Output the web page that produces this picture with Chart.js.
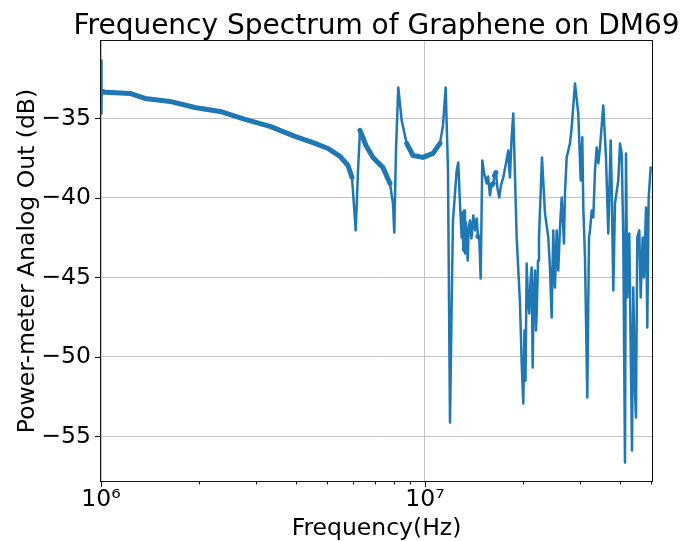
<!DOCTYPE html>
<html><head><meta charset="utf-8">
<script src="https://cdn.jsdelivr.net/npm/chart.js@4"></script>
<style>html,body{margin:0;padding:0;background:#fff;} canvas{display:block;}</style>
</head><body>
<canvas id="c" width="683" height="541"></canvas>
<script>
const freqHz = [
  1.0e6, 1.002e6, 1.005e6, 1.0143e6, 1.029e6, 1.229e6, 1.367e6, 1.633e6, 1.950e6, 2.330e6,
  2.783e6, 3.324e6, 3.970e6, 4.577e6, 5.020e6, 5.467e6, 5.785e6, 5.953e6, 6.112e6, 6.213e6,
  6.302e6, 6.576e6, 6.911e6, 7.419e6, 7.798e6, 7.965e6, 8.039e6, 8.137e6, 8.271e6, 8.474e6,
  8.780e6, 9.183e6, 9.859e6, 1.0585e7, 1.1124e7, 1.1365e7, 1.1584e7, 1.1776e7, 1.1945e7, 1.2089e7,
  1.2201e7, 1.2526e7, 1.2671e7, 1.2823e7, 1.2980e7, 1.3055e7, 1.3128e7, 1.3203e7, 1.3289e7, 1.3381e7,
  1.3546e7, 1.3643e7, 1.3769e7, 1.3915e7, 1.4096e7, 1.4266e7, 1.4441e7, 1.4575e7, 1.4710e7, 1.4856e7,
  1.5028e7, 1.5210e7, 1.5502e7, 1.5650e7, 1.5870e7, 1.6040e7, 1.6247e7, 1.6390e7, 1.6561e7, 1.6740e7,
  1.6955e7, 1.7160e7, 1.7446e7, 1.7660e7, 1.7850e7, 1.8076e7, 1.8170e7, 1.8294e7, 1.8490e7, 1.8729e7,
  1.9187e7, 1.9644e7, 1.9885e7, 2.0110e7, 2.0280e7, 2.0430e7, 2.0603e7, 2.0800e7, 2.0986e7, 2.1170e7,
  2.1347e7, 2.1500e7, 2.1630e7, 2.1854e7, 2.2010e7, 2.2122e7, 2.2330e7, 2.2486e7, 2.2967e7, 2.3464e7,
  2.4022e7, 2.4311e7, 2.4604e7, 2.4889e7, 2.5189e7, 2.5497e7, 2.5787e7, 2.6103e7, 2.6418e7, 2.6854e7,
  2.7046e7, 2.7372e7, 2.8023e7, 2.8366e7, 2.9040e7, 2.9726e7, 3.0244e7, 3.0588e7, 3.0807e7, 3.1179e7,
  3.1693e7, 3.2082e7, 3.2312e7, 3.2702e7, 3.3073e7, 3.3479e7, 3.3882e7, 3.4274e7, 3.4687e7, 3.5510e7,
  3.6196e7, 3.6793e7, 3.7426e7, 3.7693e7, 3.8130e7, 3.8590e7, 3.9506e7, 3.9991e7, 4.0473e7, 4.0932e7,
  4.1434e7, 4.1731e7, 4.2117e7, 4.2721e7, 4.3146e7, 4.3546e7, 4.3949e7, 4.4478e7, 4.4797e7, 4.5212e7,
  4.5860e7, 4.6317e7, 4.6983e7, 4.7418e7, 4.8099e7, 4.8545e7, 4.9028e7, 4.9734e7
];
const powerDb = [
  -34.69, -31.35, -33.60, -33.30, -33.36, -33.43, -33.74, -33.93, -34.31, -34.56,
  -35.06, -35.50, -36.13, -36.57, -36.89, -37.39, -37.96, -38.71, -42.04, -38.27,
  -35.75, -36.70, -37.45, -38.08, -39.09, -40.35, -42.17, -37.01, -33.05, -35.13,
  -36.57, -37.33, -37.45, -37.20, -36.57, -35.44, -33.05, -38.27, -54.12, -46.64,
  -41.42, -38.27, -37.77, -40.35, -42.48, -40.91, -43.30, -40.79, -43.49, -41.54,
  -43.93, -41.92, -41.42, -42.55, -41.10, -42.04, -41.29, -42.42, -42.48, -45.06,
  -37.64, -38.40, -39.09, -38.65, -39.84, -39.21, -39.09, -38.58, -38.40, -39.40,
  -39.97, -39.21, -38.71, -38.14, -37.64, -37.01, -37.96, -38.71, -36.38, -34.69,
  -42.48, -46.64, -50.41, -52.92, -48.33, -51.48, -44.12, -46.45, -47.26, -45.19,
  -44.37, -50.66, -46.45, -44.56, -48.33, -47.26, -43.93, -42.48, -37.45, -40.97,
  -42.48, -44.37, -47.52, -42.04, -45.63, -42.04, -44.56, -41.86, -39.97, -42.86,
  -39.72, -37.45, -36.57, -35.57, -32.80, -34.69, -38.90, -36.19, -40.60, -43.74,
  -52.55, -42.48, -42.04, -40.79, -41.23, -38.27, -36.82, -37.83, -36.82, -34.18,
  -37.45, -42.23, -36.38, -39.34, -45.82, -40.35, -38.90, -36.57, -37.20, -42.48,
  -56.64, -37.20, -46.26, -42.23, -49.40, -55.88, -45.63, -52.11, -53.81, -42.48,
  -42.04, -46.26, -42.48, -45.00, -40.60, -48.14, -39.97, -38.08
];
const yTickValues = [-35, -40, -45, -50, -55];
const xMajorTicks = [1e6, 1e7];
const xMinorTicks = [2e6, 3e6, 4e6, 5e6, 6e6, 7e6, 8e6, 9e6, 2e7, 3e7, 4e7, 5e7];
const titleText = 'Frequency Spectrum of Graphene on DM69';
const xLabel = 'Frequency(Hz)';
const yLabel = 'Power-meter Analog Out (dB)';

const FONT = '"DejaVu Sans", sans-serif';

const deco = {
  id: 'deco',
  afterDraw(chart) {
    const {ctx, chartArea: a, scales: {x, y}} = chart;
    ctx.save();
    ctx.strokeStyle = '#111';
    ctx.lineWidth = 1;
    ctx.strokeRect(a.left - 0.5, a.top - 0.5, a.right - a.left + 1, a.bottom - a.top + 1);
    ctx.beginPath();
    yTickValues.forEach(v => {
      const p = Math.round(y.getPixelForValue(v)) + 0.5;
      ctx.moveTo(a.left - 6, p); ctx.lineTo(a.left, p);
    });
    xMajorTicks.forEach(v => {
      const p = Math.round(x.getPixelForValue(v)) + 0.5;
      ctx.moveTo(p, a.bottom); ctx.lineTo(p, a.bottom + 6);
    });
    xMinorTicks.forEach(v => {
      const p = Math.round(x.getPixelForValue(v)) + 0.5;
      ctx.moveTo(p, a.bottom); ctx.lineTo(p, a.bottom + 3.5);
    });
    ctx.stroke();
    ctx.fillStyle = '#000';
    ctx.textAlign = 'center';
    ctx.textBaseline = 'alphabetic';
    ctx.font = '28px ' + FONT;
    ctx.fillText(titleText, (a.left + a.right) / 2, 34);
    ctx.font = '23.5px ' + FONT;
    ctx.fillText(xLabel, (a.left + a.right) / 2, 535);
    ctx.translate(34, (a.top + a.bottom) / 2);
    ctx.rotate(-Math.PI / 2);
    ctx.fillText(yLabel, 0, 0);
    ctx.restore();
  }
};

new Chart(document.getElementById('c'), {
  type: 'line',
  data: {
    datasets: [{
      data: freqHz.map((f, i) => ({x: f, y: powerDb[i]})),
      borderColor: '#1f77b4',
      borderWidth: 2.5,
      borderCapStyle: 'round',
      borderJoinStyle: 'round',
      pointRadius: 0,
      tension: 0,
      fill: false,
      segment: {
        borderWidth: ctx => {
          const dx = Math.abs(ctx.p1.x - ctx.p0.x);
          const dy = Math.abs(ctx.p1.y - ctx.p0.y);
          return dy < 3 * dx ? 5 : 2.5;
        },
        borderCapStyle: 'round',
        borderJoinStyle: 'round'
      }
    }]
  },
  plugins: [deco],
  options: {
    responsive: false,
    animation: false,
    devicePixelRatio: 1,
    layout: {padding: {top: 41, right: 31, left: 0, bottom: 0}},
    plugins: {legend: {display: false}, tooltip: {enabled: false}, title: {display: false}},
    scales: {
      x: {
        type: 'logarithmic',
        min: 1e6,
        max: 5.02e7,
        afterBuildTicks: s => {
          s.ticks = xMajorTicks.concat(xMinorTicks).sort((a, b) => a - b).map(v => ({value: v, major: xMajorTicks.includes(v)}));
        },
        afterFit: s => { s.height = 60; },
        ticks: {
          autoSkip: false, maxRotation: 0, minRotation: 0, padding: 5,
          color: '#000', font: {family: FONT, size: 23.5},
          callback: v => v === 1e6 ? '10\u2076' : (v === 1e7 ? '10\u2077' : '')
        },
        grid: {
          drawTicks: false,
          color: c => (c.tick && xMajorTicks.includes(c.tick.value)) ? '#c4c4c4' : 'rgba(0,0,0,0)',
          lineWidth: 1
        },
        border: {display: false}
      },
      y: {
        min: -57.8,
        max: -30.13,
        afterBuildTicks: s => { s.ticks = yTickValues.map(v => ({value: v})); },
        afterFit: s => { s.width = 101; },
        ticks: {
          padding: 10, color: '#000', font: {family: FONT, size: 23.5},
          callback: v => '\u2212' + Math.abs(v)
        },
        grid: {drawTicks: false, color: '#c4c4c4', lineWidth: 1},
        border: {display: false}
      }
    }
  }
});
</script>
</body></html>
